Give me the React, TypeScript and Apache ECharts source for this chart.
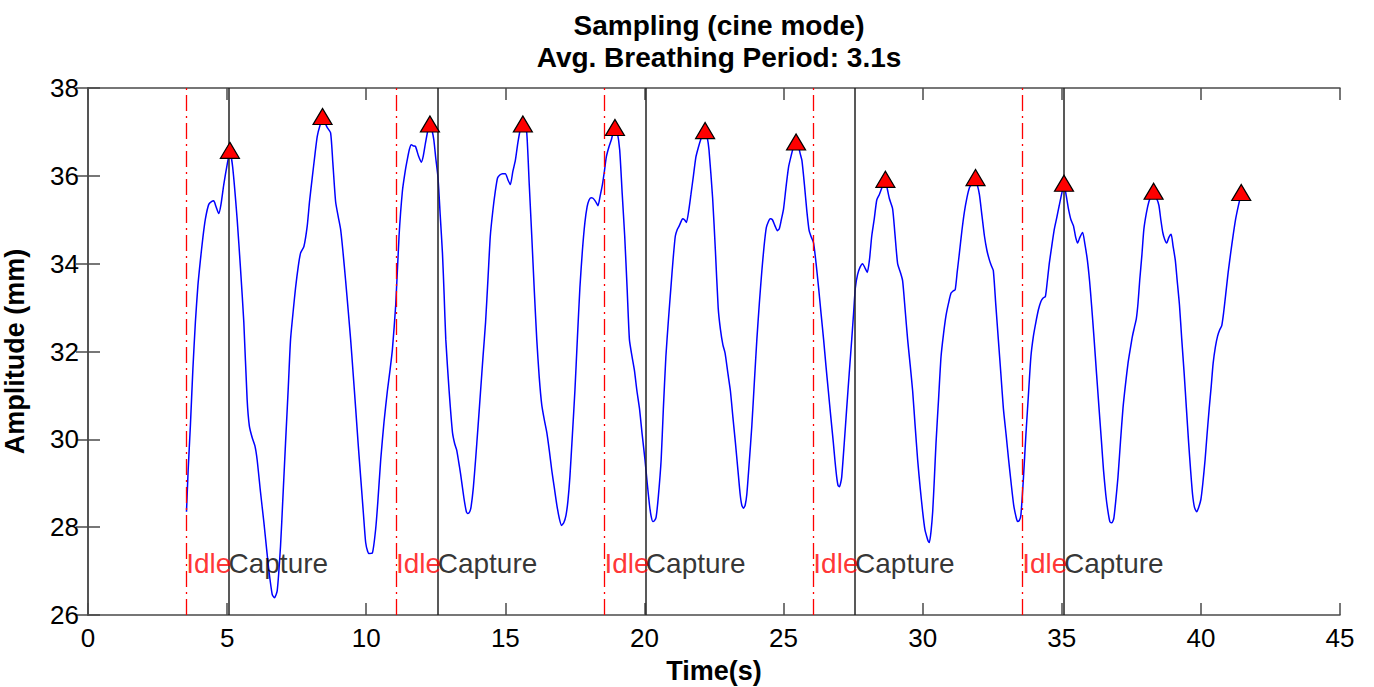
import React, { useEffect, useRef } from "react";
import * as echarts from "echarts";

const FONT = "'Liberation Sans', Arial, Helvetica, sans-serif";

const titleLines = ["Sampling (cine mode)", "Avg. Breathing Period: 3.1s"];
const xName = "Time(s)";
const yName = "Amplitude (mm)";

// Breathing signal [time (s), amplitude (mm)]
const signal: [number, number][] = [
  [3.54, 28.35], [3.6, 29.3], [3.68, 30.31], [3.77, 31.6], [3.86, 32.67], [3.95, 33.5],
  [4.04, 34.08], [4.13, 34.6], [4.22, 35.02], [4.34, 35.35], [4.45, 35.42], [4.52, 35.43],
  [4.6, 35.3], [4.7, 35.14], [4.78, 35.35], [4.88, 35.8], [5.0, 36.25], [5.1, 36.55],
  [5.2, 36.2], [5.36, 35.02], [5.48, 33.9], [5.6, 32.67], [5.72, 30.9], [5.8, 30.3],
  [5.9, 30.04], [6.0, 29.85], [6.08, 29.53], [6.2, 28.8], [6.32, 28.12], [6.42, 27.5],
  [6.5, 27.02], [6.62, 26.47], [6.7, 26.39], [6.8, 26.55], [6.92, 27.57], [7.0, 28.6],
  [7.1, 29.92], [7.2, 31.2], [7.28, 32.27], [7.38, 32.95], [7.46, 33.45], [7.56, 33.95],
  [7.64, 34.24], [7.76, 34.39], [7.88, 34.86], [7.96, 35.4], [8.06, 35.96], [8.16, 36.5],
  [8.24, 36.9], [8.34, 37.15], [8.43, 37.3], [8.52, 37.2], [8.6, 37.1], [8.72, 36.98],
  [8.8, 36.3], [8.9, 35.41], [9.0, 35.05], [9.08, 34.78], [9.16, 34.3], [9.26, 33.61],
  [9.35, 32.95], [9.44, 32.27], [9.53, 31.5], [9.62, 30.71], [9.71, 29.9], [9.8, 29.14],
  [9.9, 28.3], [9.98, 27.65], [10.05, 27.45], [10.1, 27.4], [10.22, 27.41], [10.34, 27.96],
  [10.42, 28.6], [10.52, 29.53], [10.64, 30.4], [10.76, 31.1], [10.86, 31.6], [10.94, 32.04],
  [11.06, 33.06], [11.18, 34.63], [11.3, 35.65], [11.4, 36.1], [11.47, 36.35], [11.55, 36.6],
  [11.62, 36.71], [11.7, 36.68], [11.77, 36.67], [11.88, 36.45], [11.98, 36.31], [12.05, 36.45],
  [12.13, 36.75], [12.22, 37.05], [12.29, 37.18], [12.36, 37.05], [12.43, 36.82], [12.5, 36.4],
  [12.58, 35.96], [12.66, 35.1], [12.74, 34.24], [12.8, 33.3], [12.86, 32.27], [12.98, 31.1],
  [13.1, 30.16], [13.18, 29.9], [13.25, 29.76], [13.32, 29.5], [13.39, 29.22], [13.51, 28.67],
  [13.6, 28.35], [13.65, 28.31], [13.72, 28.35], [13.77, 28.47], [13.85, 28.9], [13.93, 29.53],
  [14.02, 30.3], [14.11, 31.1], [14.2, 31.9], [14.29, 32.67], [14.38, 33.7], [14.46, 34.63],
  [14.55, 35.2], [14.64, 35.65], [14.72, 35.95], [14.8, 36.02], [14.9, 36.05], [15.0, 36.05],
  [15.1, 35.9], [15.18, 35.8], [15.27, 36.1], [15.36, 36.35], [15.45, 36.75], [15.54, 37.06],
  [15.63, 37.18], [15.7, 37.1], [15.77, 36.98], [15.86, 35.8], [15.95, 34.63], [16.04, 33.4],
  [16.13, 32.27], [16.22, 31.4], [16.31, 30.78], [16.4, 30.45], [16.49, 30.16], [16.58, 29.75],
  [16.67, 29.29], [16.76, 28.9], [16.85, 28.51], [16.94, 28.2], [17.02, 28.04], [17.1, 28.1],
  [17.18, 28.27], [17.25, 28.6], [17.32, 29.14], [17.41, 30.1], [17.5, 31.1], [17.59, 32.3],
  [17.68, 33.45], [17.77, 34.3], [17.86, 34.94], [17.94, 35.3], [18.01, 35.45], [18.08, 35.5],
  [18.15, 35.49], [18.24, 35.42], [18.33, 35.32], [18.41, 35.55], [18.49, 35.8], [18.56, 36.1],
  [18.63, 36.43], [18.72, 36.65], [18.81, 36.82], [18.88, 37.0], [18.94, 37.1], [19.02, 37.0],
  [19.11, 36.59], [19.2, 35.6], [19.29, 34.63], [19.38, 33.4], [19.46, 32.27], [19.55, 31.9],
  [19.64, 31.57], [19.73, 31.1], [19.82, 30.71], [19.92, 30.1], [20.02, 29.53], [20.1, 29.0],
  [20.18, 28.51], [20.24, 28.25], [20.3, 28.13], [20.36, 28.15], [20.42, 28.23], [20.5, 28.7],
  [20.6, 29.53], [20.68, 30.7], [20.77, 31.88], [20.86, 32.7], [20.95, 33.45], [21.03, 34.1],
  [21.11, 34.63], [21.18, 34.78], [21.25, 34.86], [21.31, 34.95], [21.37, 35.02], [21.44, 35.0],
  [21.51, 34.94], [21.59, 35.2], [21.67, 35.57], [21.76, 36.0], [21.85, 36.43], [21.94, 36.65],
  [22.02, 36.82], [22.1, 36.95], [22.18, 37.02], [22.25, 36.9], [22.32, 36.59], [22.45, 35.5],
  [22.55, 34.3], [22.65, 33.0], [22.73, 32.51], [22.82, 32.15], [22.9, 31.96], [23.0, 31.5],
  [23.09, 31.1], [23.18, 30.5], [23.27, 29.92], [23.36, 29.3], [23.44, 28.75], [23.5, 28.5],
  [23.56, 28.43], [23.62, 28.5], [23.68, 28.75], [23.77, 29.5], [23.86, 30.31], [23.95, 31.3],
  [24.04, 32.27], [24.13, 33.1], [24.22, 33.84], [24.3, 34.4], [24.38, 34.82], [24.45, 34.95],
  [24.52, 35.02], [24.6, 35.0], [24.7, 34.85], [24.78, 34.75], [24.85, 34.8], [24.92, 35.0],
  [25.0, 35.25], [25.09, 35.75], [25.18, 36.2], [25.27, 36.45], [25.36, 36.67], [25.44, 36.75],
  [25.52, 36.7], [25.6, 36.5], [25.66, 36.35], [25.75, 35.8], [25.84, 35.18], [25.92, 34.75],
  [26.0, 34.6], [26.08, 34.47], [26.17, 34.0], [26.26, 33.45], [26.35, 32.85], [26.44, 32.27],
  [26.52, 31.7], [26.61, 31.1], [26.7, 30.5], [26.79, 29.92], [26.85, 29.5], [26.91, 29.14],
  [26.96, 28.95], [27.01, 28.92], [27.05, 29.0], [27.09, 29.14], [27.18, 29.9], [27.27, 30.71],
  [27.36, 31.5], [27.45, 32.27], [27.52, 32.9], [27.58, 33.45], [27.66, 33.75], [27.75, 33.92],
  [27.84, 34.0], [27.93, 33.9], [28.01, 33.8], [28.09, 34.1], [28.17, 34.63], [28.26, 35.02],
  [28.35, 35.45], [28.44, 35.57], [28.55, 35.75], [28.66, 35.88], [28.73, 35.7], [28.8, 35.49],
  [28.92, 35.25], [29.0, 34.7], [29.1, 34.0], [29.2, 33.8], [29.28, 33.61], [29.37, 32.95],
  [29.46, 32.27], [29.55, 31.7], [29.64, 31.1], [29.73, 30.3], [29.82, 29.53], [29.91, 28.9],
  [30.0, 28.35], [30.08, 27.95], [30.14, 27.8], [30.2, 27.68], [30.24, 27.65], [30.3, 27.9],
  [30.36, 28.35], [30.42, 29.1], [30.48, 29.92], [30.57, 30.9], [30.66, 31.88], [30.75, 32.4],
  [30.84, 32.82], [30.93, 33.1], [31.02, 33.33], [31.1, 33.38], [31.17, 33.41], [31.24, 33.8],
  [31.32, 34.24], [31.41, 34.75], [31.5, 35.18], [31.59, 35.5], [31.68, 35.73], [31.77, 35.82],
  [31.88, 35.92], [31.96, 35.8], [32.04, 35.57], [32.13, 35.1], [32.22, 34.63], [32.31, 34.3],
  [32.4, 34.08], [32.47, 33.95], [32.54, 33.84], [32.63, 33.05], [32.72, 32.27], [32.81, 31.5],
  [32.9, 30.71], [33.0, 30.1], [33.09, 29.53], [33.18, 29.0], [33.27, 28.51], [33.35, 28.25],
  [33.41, 28.13], [33.47, 28.15], [33.53, 28.27], [33.62, 29.1], [33.71, 30.1], [33.8, 31.0],
  [33.89, 31.88], [33.98, 32.35], [34.07, 32.67], [34.16, 32.95], [34.25, 33.14], [34.33, 33.22],
  [34.41, 33.25], [34.48, 33.6], [34.55, 34.0], [34.64, 34.4], [34.73, 34.78], [34.82, 35.05],
  [34.91, 35.33], [35.0, 35.6], [35.08, 35.8], [35.16, 35.55], [35.24, 35.25], [35.33, 35.0],
  [35.42, 34.86], [35.5, 34.6], [35.57, 34.47], [35.65, 34.6], [35.75, 34.71], [35.83, 34.45],
  [35.92, 34.08], [36.0, 33.6], [36.07, 33.06], [36.16, 32.3], [36.25, 31.49], [36.34, 30.7],
  [36.43, 29.92], [36.5, 29.3], [36.58, 28.75], [36.65, 28.4], [36.73, 28.12], [36.8, 28.1],
  [36.87, 28.2], [36.94, 28.6], [37.02, 29.14], [37.11, 29.95], [37.2, 30.71], [37.29, 31.25],
  [37.38, 31.73], [37.46, 32.05], [37.54, 32.35], [37.61, 32.55], [37.68, 32.75], [37.74, 33.1],
  [37.8, 33.61], [37.88, 34.2], [37.95, 34.78], [38.04, 35.15], [38.13, 35.41], [38.22, 35.55],
  [38.3, 35.61], [38.4, 35.5], [38.49, 35.33], [38.56, 35.0], [38.63, 34.71], [38.7, 34.55],
  [38.77, 34.47], [38.85, 34.6], [38.93, 34.67], [39.0, 34.4], [39.08, 34.08], [39.15, 33.6],
  [39.23, 33.06], [39.31, 32.3], [39.4, 31.49], [39.48, 30.7], [39.56, 29.92], [39.63, 29.3],
  [39.7, 28.75], [39.77, 28.45], [39.85, 28.35], [39.92, 28.45], [40.0, 28.63], [40.07, 29.0],
  [40.15, 29.53], [40.22, 30.1], [40.3, 30.71], [40.37, 31.2], [40.44, 31.73], [40.52, 32.1],
  [40.6, 32.35], [40.68, 32.5], [40.75, 32.59], [40.82, 32.9], [40.89, 33.29], [40.98, 33.8],
  [41.07, 34.24], [41.16, 34.65], [41.25, 35.02], [41.34, 35.3], [41.43, 35.55],
];

// Detected peaks [time, amplitude]
const peaks: [number, number][] = [
  [5.1, 36.58], [8.43, 37.35], [12.29, 37.18], [15.63, 37.18], [18.94, 37.1], [22.18, 37.03],
  [25.45, 36.77], [28.66, 35.92], [31.9, 35.96], [35.08, 35.83], [38.3, 35.65], [41.45, 35.62],
];

const idleStarts = [3.53, 11.07, 18.56, 26.07, 33.58];
const captureStarts = [5.05, 12.57, 20.05, 27.57, 35.08];
const labelLevel = 27.18;

const xTicks = { min: 0, max: 45, interval: 5 };
const yTicks = { min: 26, max: 38, interval: 2 };

export default function App() {
  const ref = useRef<HTMLDivElement>(null);
  useEffect(() => {
    if (!ref.current) return;
    const chart = echarts.init(ref.current, null, { renderer: "svg" });
    const axisLine = { show: true, lineStyle: { color: "#4a4a4a", width: 1.5 } };
    const tick = { show: true, inside: true, length: 12, lineStyle: { color: "#4a4a4a", width: 1.5 } };
    chart.setOption({
      animation: false,
      backgroundColor: "#ffffff",
      title: {
        text: titleLines.join("\n"),
        left: 714,
        top: 4,
        textAlign: "center",
        textStyle: { fontFamily: FONT, fontWeight: "bold", fontSize: 28, lineHeight: 32, color: "#000" },
      },
      grid: { left: 88, right: 34, top: 88, bottom: 72, containLabel: false, outerBoundsMode: "none" },
      xAxis: [
        {
          type: "value", ...xTicks, position: "bottom",
          name: xName, nameLocation: "middle", nameGap: 42,
          nameTextStyle: { fontFamily: FONT, fontWeight: "bold", fontSize: 27, color: "#000" },
          axisLine, axisTick: tick, splitLine: { show: false },
          axisLabel: { fontFamily: FONT, fontSize: 26, color: "#000", margin: 10 },
        },
        {
          type: "value", ...xTicks, position: "top",
          axisLine, axisTick: tick, splitLine: { show: false }, axisLabel: { show: false },
        },
      ],
      yAxis: [
        {
          type: "value", ...yTicks, position: "left",
          name: yName, nameLocation: "middle", nameGap: 60, nameRotate: 90,
          nameTextStyle: { fontFamily: FONT, fontWeight: "bold", fontSize: 27, color: "#000" },
          axisLine, axisTick: tick, splitLine: { show: false },
          axisLabel: { fontFamily: FONT, fontSize: 26, color: "#000", margin: 9 },
        },
        {
          type: "value", ...yTicks, position: "right",
          axisLine, axisTick: tick, splitLine: { show: false }, axisLabel: { show: false },
        },
      ],
      series: [
        {
          type: "line",
          data: [],
          silent: true,
          markLine: {
            silent: true,
            symbol: "none",
            label: { show: false },
            data: [
              ...idleStarts.map((x) => ({ xAxis: x, lineStyle: { color: "#ff0000", width: 1.3, type: [16, 5, 2, 5] } })),
              ...captureStarts.map((x) => ({ xAxis: x, lineStyle: { color: "#222222", width: 1.5, type: "solid" } })),
            ],
          },
        },
        {
          type: "line",
          data: signal,
          showSymbol: false,
          smooth: 0.2,
          lineStyle: { color: "#0000ff", width: 1.5 },
          z: 3,
        },
        {
          type: "scatter",
          data: peaks,
          symbol: "triangle",
          symbolSize: [19, 16],
          itemStyle: { color: "#ff0000", borderColor: "#000", borderWidth: 1.2, opacity: 1 },
          z: 5,
        },
        {
          type: "scatter",
          data: idleStarts.map((x) => [x, labelLevel]),
          symbolSize: 0,
          label: {
            show: true, position: [0, 0], align: "left", verticalAlign: "middle",
            formatter: "Idle", fontFamily: FONT, fontSize: 28, color: "#ff0000",
          },
          z: 6,
        },
        {
          type: "scatter",
          data: captureStarts.map((x) => [x, labelLevel]),
          symbolSize: 0,
          label: {
            show: true, position: [0, 0], align: "left", verticalAlign: "middle",
            formatter: "Capture", fontFamily: FONT, fontSize: 28, color: "#000",
          },
          z: 6,
        },
      ],
    });
    return () => chart.dispose();
  }, []);
  return (
    <div
      ref={ref}
      style={{ position: "fixed", left: 0, top: 0, width: 1374, height: 687, background: "#fff" }}
    />
  );
}
